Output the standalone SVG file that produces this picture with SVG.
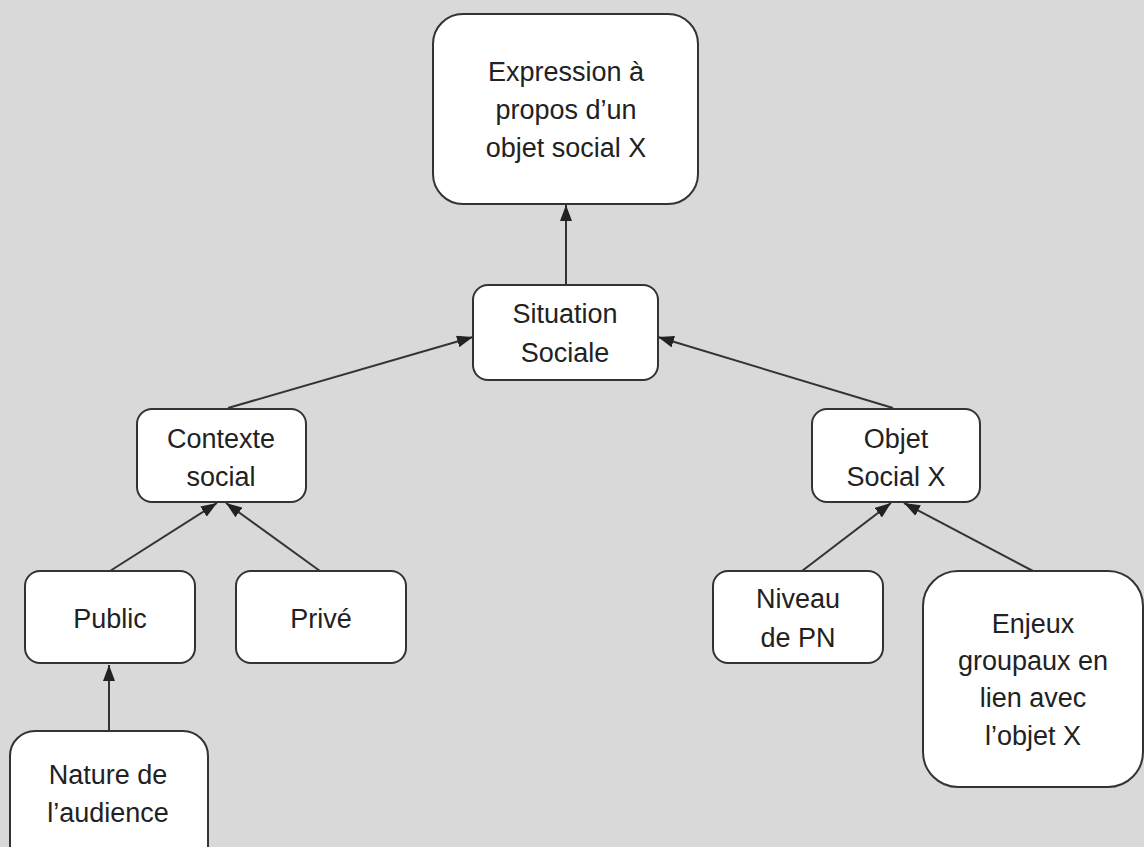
<svg xmlns="http://www.w3.org/2000/svg" width="1144" height="847" viewBox="0 0 1144 847">
<defs>
<style>
.node rect{fill:#ffffff;stroke:#333333;stroke-width:2}
.node text{font-family:"Liberation Sans",Arial,sans-serif;font-size:27px;fill:#222222;text-anchor:middle}
.conn line{stroke:#333333;stroke-width:2;fill:none}
</style>
<marker id="arr" markerUnits="userSpaceOnUse" markerWidth="16" markerHeight="12" viewBox="0 0 16 12" refX="16" refY="6" orient="auto">
<path d="M0,0 L16,6 L0,12 Z" fill="#222222"/>
</marker>
</defs>
<rect x="0" y="0" width="1144" height="847" fill="#d9d9d9"/>
<g id="connectors" class="conn">
<line x1="566" y1="285" x2="566" y2="205" marker-end="url(#arr)"/>
<line x1="228" y1="408" x2="473" y2="337" marker-end="url(#arr)"/>
<line x1="893" y1="408" x2="658" y2="337" marker-end="url(#arr)"/>
<line x1="110" y1="571" x2="217" y2="503" marker-end="url(#arr)"/>
<line x1="320" y1="571" x2="226" y2="503" marker-end="url(#arr)"/>
<line x1="802" y1="571" x2="891" y2="503" marker-end="url(#arr)"/>
<line x1="1033" y1="571" x2="904" y2="503" marker-end="url(#arr)"/>
<line x1="109" y1="731" x2="109" y2="665" marker-end="url(#arr)"/>
</g>
<g id="n-expression" class="node">
<rect x="433" y="14" width="265" height="190" rx="30" ry="30"/>
<text x="566" y="81">Expression à</text>
<text x="566" y="119">propos d’un</text>
<text x="566" y="157">objet social X</text>
</g>
<g id="n-situation" class="node">
<rect x="473" y="285" width="185" height="95" rx="15" ry="15"/>
<text x="565" y="323">Situation</text>
<text x="565" y="362">Sociale</text>
</g>
<g id="n-contexte" class="node">
<rect x="137" y="409" width="169" height="93" rx="15" ry="15"/>
<text x="221" y="448">Contexte</text>
<text x="221" y="486">social</text>
</g>
<g id="n-objet" class="node">
<rect x="812" y="409" width="168" height="93" rx="15" ry="15"/>
<text x="896" y="448">Objet</text>
<text x="896" y="486">Social X</text>
</g>
<g id="n-public" class="node">
<rect x="25" y="571" width="170" height="92" rx="15" ry="15"/>
<text x="110" y="628">Public</text>
</g>
<g id="n-prive" class="node">
<rect x="236" y="571" width="170" height="92" rx="15" ry="15"/>
<text x="321" y="628">Privé</text>
</g>
<g id="n-niveau" class="node">
<rect x="713" y="571" width="170" height="92" rx="15" ry="15"/>
<text x="798" y="608">Niveau</text>
<text x="798" y="647">de PN</text>
</g>
<g id="n-enjeux" class="node">
<rect x="923" y="571" width="220" height="216" rx="35" ry="35"/>
<text x="1033" y="633">Enjeux</text>
<text x="1033" y="670">groupaux en</text>
<text x="1033" y="707">lien avec</text>
<text x="1033" y="745">l’objet X</text>
</g>
<g id="n-nature" class="node">
<rect x="10" y="731" width="198" height="140" rx="25" ry="25"/>
<text x="108" y="784">Nature de</text>
<text x="108" y="822">l’audience</text>
</g>
</svg>
